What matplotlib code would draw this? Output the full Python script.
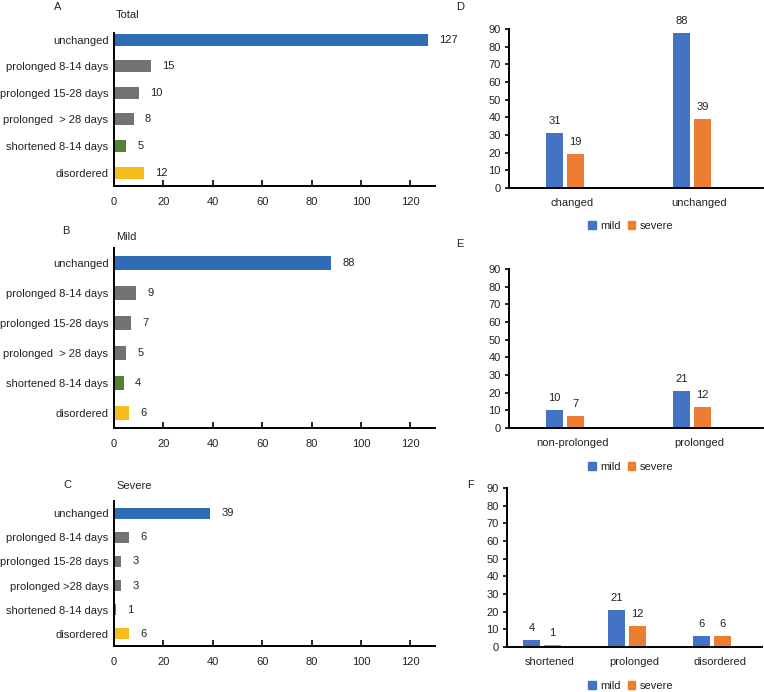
import matplotlib
matplotlib.use("Agg")
import matplotlib.pyplot as plt
from matplotlib.patches import Patch

plt.rcParams['font.family'] = ['Liberation Sans', 'DejaVu Sans']
plt.rcParams['font.size'] = 8

# ---------------- data ----------------
left_categories = ["unchanged", "prolonged 8-14 days", "prolonged 15-28 days",
                   "prolonged  > 28 days", "shortened 8-14 days", "disordered"]
left_categories_c = ["unchanged", "prolonged 8-14 days", "prolonged 15-28 days",
                     "prolonged >28 days", "shortened 8-14 days", "disordered"]
total_values = [127, 15, 10, 8, 5, 12]
mild_values = [88, 9, 7, 5, 4, 6]
severe_values = [39, 6, 3, 3, 1, 6]
left_ticks = [0, 20, 40, 60, 80, 100, 120]

d_categories = ["changed", "unchanged"]
d_mild = [31, 88]
d_severe = [19, 39]

e_categories = ["non-prolonged", "prolonged"]
e_mild = [10, 21]
e_severe = [7, 12]

f_categories = ["shortened", "prolonged", "disordered"]
f_mild = [4, 21, 6]
f_severe = [1, 12, 6]

right_ticks = [0, 10, 20, 30, 40, 50, 60, 70, 80, 90]
series_names = ["mild", "severe"]

# ---------------- style ----------------
left_colors = ["#2E6DB4", "#767171", "#767171", "#767171", "#548235", "#F6BE1C"]
c_mild = "#4472C4"
c_severe = "#ED7D31"
txt = "#222222"

W, H = 764, 692
fig = plt.figure(figsize=(W / 100, H / 100), dpi=100)


def px_axes(x0, y0, x1, y1):
    return fig.add_axes([x0 / W, 1 - y1 / H, (x1 - x0) / W, (y1 - y0) / H])


def left_panel(box, cats, vals, title, letter, letter_xy, title_xy, ylim):
    ax = px_axes(*box)
    ys = list(range(len(cats)))
    ax.barh(ys, vals, height=0.45, color=left_colors)
    ax.set_ylim(*ylim)
    ax.set_xlim(0, 130)
    ax.set_yticks(ys)
    ax.set_yticklabels(cats, color=txt)
    ax.set_xticks(left_ticks)
    ax.tick_params(axis='y', length=0, pad=4)
    ax.tick_params(axis='x', direction='in', length=4, width=1.2, pad=8, colors='black',
                   labelcolor=txt)
    for s in ['top', 'right']:
        ax.spines[s].set_visible(False)
    for s in ['left', 'bottom']:
        ax.spines[s].set_linewidth(1.4)
    for y, v in zip(ys, vals):
        ax.annotate(str(v), xy=(v, y), xytext=(8, 0), textcoords='offset points',
                    ha='left', va='center', color=txt)
    fig.text(letter_xy[0] / W, 1 - letter_xy[1] / H, letter, ha='left', va='center', color=txt)
    fig.text(title_xy[0] / W, 1 - title_xy[1] / H, title, ha='left', va='center', color=txt)
    return ax


def right_panel(box, cats, mild, severe, letter, letter_xy, legend_y):
    ax = px_axes(*box)
    n = len(cats)
    cat_px = (box[2] - box[0]) / n
    width = 16.5 / cat_px
    off_m = -18 / cat_px
    off_s = 3 / cat_px
    xs = list(range(n))
    bm = ax.bar([x + off_m for x in xs], mild, width=width, color=c_mild)
    bs = ax.bar([x + off_s for x in xs], severe, width=width, color=c_severe)
    for bars, vals in ((bm, mild), (bs, severe)):
        for b, v in zip(bars, vals):
            ax.annotate(str(v), xy=(b.get_x() + b.get_width() / 2, v), xytext=(0, 5),
                        textcoords='offset points', ha='center', va='bottom', color=txt)
    ax.set_xlim(-0.5, n - 0.5)
    ax.set_ylim(0, 90)
    ax.set_yticks(right_ticks)
    ax.set_xticks(xs)
    ax.set_xticklabels(cats, color=txt)
    ax.tick_params(axis='x', length=0, pad=7)
    ax.tick_params(axis='y', direction='out', length=3, width=1.2, pad=3, labelcolor=txt)
    for s in ['top', 'right']:
        ax.spines[s].set_visible(False)
    for s in ['left', 'bottom']:
        ax.spines[s].set_linewidth(1.4)
    fig.text(letter_xy[0] / W, 1 - letter_xy[1] / H, letter, ha='left', va='center', color=txt)
    handles = [Patch(color=c_mild), Patch(color=c_severe)]
    fig.legend(handles, series_names, loc='center', bbox_to_anchor=(631 / W, 1 - legend_y / H),
               ncol=2, frameon=False, handlelength=0.65, handleheight=0.65,
               columnspacing=0.6, handletextpad=0.45, borderpad=0, labelcolor=txt)
    return ax


left_panel((114, 33, 435, 186), left_categories, total_values, "Total", "A", (54, 7), (116, 15),
           (5.5, -0.25))
left_panel((114, 248, 435, 428), left_categories, mild_values, "Mild", "B", (62, 231), (116, 237),
           (5.5, -0.5))
left_panel((114, 501, 435, 646), left_categories_c, severe_values, "Severe", "C", (63, 485), (116, 486),
           (5.5, -0.5))

right_panel((509, 29, 763, 188), d_categories, d_mild, d_severe, "D", (456, 7), 226)
right_panel((509, 269, 763, 428), e_categories, e_mild, e_severe, "E", (456, 244), 467)
right_panel((507, 488, 762, 647), f_categories, f_mild, f_severe, "F", (467, 485), 686)

fig.savefig("out.png", dpi=100)
